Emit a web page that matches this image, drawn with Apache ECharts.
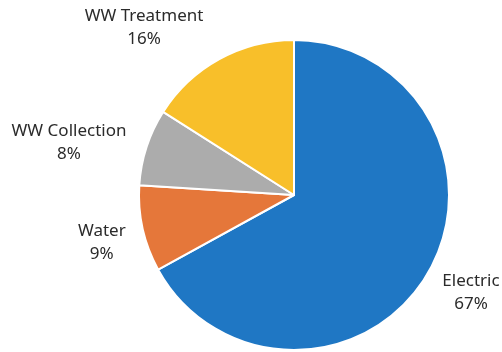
<!DOCTYPE html>
<html><head><meta charset="utf-8">
<script src="https://cdn.jsdelivr.net/npm/echarts@6/dist/echarts.min.js"></script>
<style>html,body{margin:0;padding:0;background:#fff}#c{width:502px;height:352px}</style>
</head><body><div id="c"></div>
<script>
const categories = ['Electric', 'Water', 'WW Collection', 'WW Treatment'];
const values = [67, 9, 8, 16];
const colors = ['#1F77C4', '#E5773A', '#ACACAC', '#F8BF2A'];
// label placement relative to slice mid-angle: [angle shift deg, distance px]
const labelPlace = [[-1.8, 202], [-1.3, 198], [-4.9, 231], [-13, 225]];

const CX = 294, CY = 195, R = 155;
const total = values.reduce((a, b) => a + b, 0);
const midAngles = [];
let acc = 0;
values.forEach(v => { midAngles.push((acc + v / 2) / total * 360); acc += v; });

const chart = echarts.init(document.getElementById('c'), null, {renderer: 'canvas'});
chart.setOption({
  animation: false,
  series: [{
    type: 'pie',
    center: [CX, CY],
    radius: [0, R],
    startAngle: 90,
    clockwise: true,
    data: categories.map((n, i) => ({name: n, value: values[i], itemStyle: {color: colors[i]}})),
    itemStyle: {borderColor: '#ffffff', borderWidth: 2},
    label: {
      show: true,
      position: 'outside',
      alignTo: 'none',
      overflow: 'none',
      formatter: p => p.name + '\n' + Math.round(p.percent) + '%',
      fontFamily: 'Noto Sans',
      fontSize: 17,
      lineHeight: 23,
      color: '#2b2b2b'
    },
    labelLine: {show: false},
    labelLayout: function (p) {
      const i = p.dataIndex;
      const a = (midAngles[i] + labelPlace[i][0]) * Math.PI / 180;
      const d = labelPlace[i][1];
      return {
        x: CX + d * Math.sin(a),
        y: CY - d * Math.cos(a),
        align: 'center',
        verticalAlign: 'middle',
        width: 200
      };
    }
  }]
});
</script></body></html>
